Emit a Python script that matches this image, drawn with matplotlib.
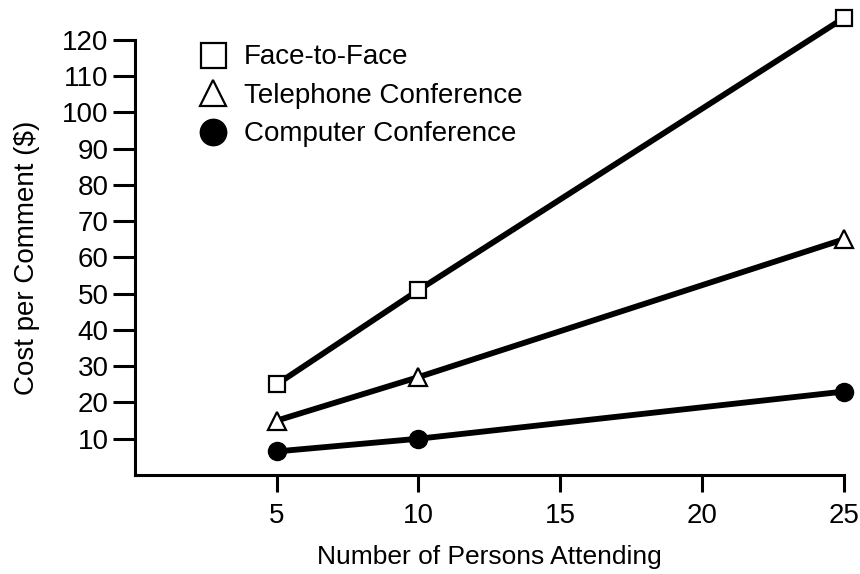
import matplotlib
matplotlib.use("Agg")
import matplotlib.pyplot as plt
from matplotlib.lines import Line2D

persons = [5, 10, 25]
face_to_face = [25, 51, 126]
telephone = [15, 27, 65]
computer = [6.5, 10, 23]
x_ticks = [5, 10, 15, 20, 25]
y_ticks = [10, 20, 30, 40, 50, 60, 70, 80, 90, 100, 110, 120]

plt.rcParams['font.family'] = ['Liberation Sans', 'DejaVu Sans']

fig = plt.figure(figsize=(8.6, 5.74), dpi=100)
ax = fig.add_axes([0.157, 0.1725, 0.824, 0.758])

lw = 4.2
ax.plot(persons, face_to_face, color='black', lw=lw, marker='s', ms=12,
        mfc='white', mec='black', mew=1.6, solid_capstyle='butt', zorder=3, clip_on=False)
ax.plot(persons, telephone, color='black', lw=lw, marker='^', ms=13,
        mfc='white', mec='black', mew=1.6, solid_capstyle='butt', zorder=3, clip_on=False)
ax.plot(persons, computer, color='black', lw=lw, marker='o', ms=13,
        mfc='black', mec='black', solid_capstyle='butt', zorder=3, clip_on=False)

ax.set_xlim(0, 25)
ax.set_ylim(0, 120)
ax.set_xticks(x_ticks)
ax.set_xticklabels([str(v) for v in x_ticks])
ax.set_yticks(y_ticks)
ax.set_yticklabels([str(v) for v in y_ticks])

for s in ['top', 'right']:
    ax.spines[s].set_visible(False)
for s in ['left', 'bottom']:
    ax.spines[s].set_linewidth(2.2)

ax.tick_params(axis='y', direction='out', length=16, width=2.2, labelsize=20, pad=3)
ax.tick_params(axis='x', direction='out', length=12, width=2.2, labelsize=20, pad=8)

ax.set_xlabel('Number of Persons Attending', fontsize=19, labelpad=12)
ax.set_ylabel('Cost per Comment ($)', fontsize=20, labelpad=16)

handles = [
    Line2D([], [], ls='none', marker='s', ms=18, mfc='white', mec='black', mew=1.6),
    Line2D([], [], ls='none', marker='^', ms=19, mfc='white', mec='black', mew=1.6),
    Line2D([], [], ls='none', marker='o', ms=19, mfc='black', mec='black'),
]
labels = ['Face-to-Face', 'Telephone Conference', 'Computer Conference']
ax.legend(handles, labels, loc='upper left', bbox_to_anchor=(0.075, 1.015),
          frameon=False, fontsize=20, handlelength=1.0, handletextpad=0.6,
          labelspacing=0.45, borderaxespad=0)

fig.savefig('out.png', dpi=100, facecolor='white')
